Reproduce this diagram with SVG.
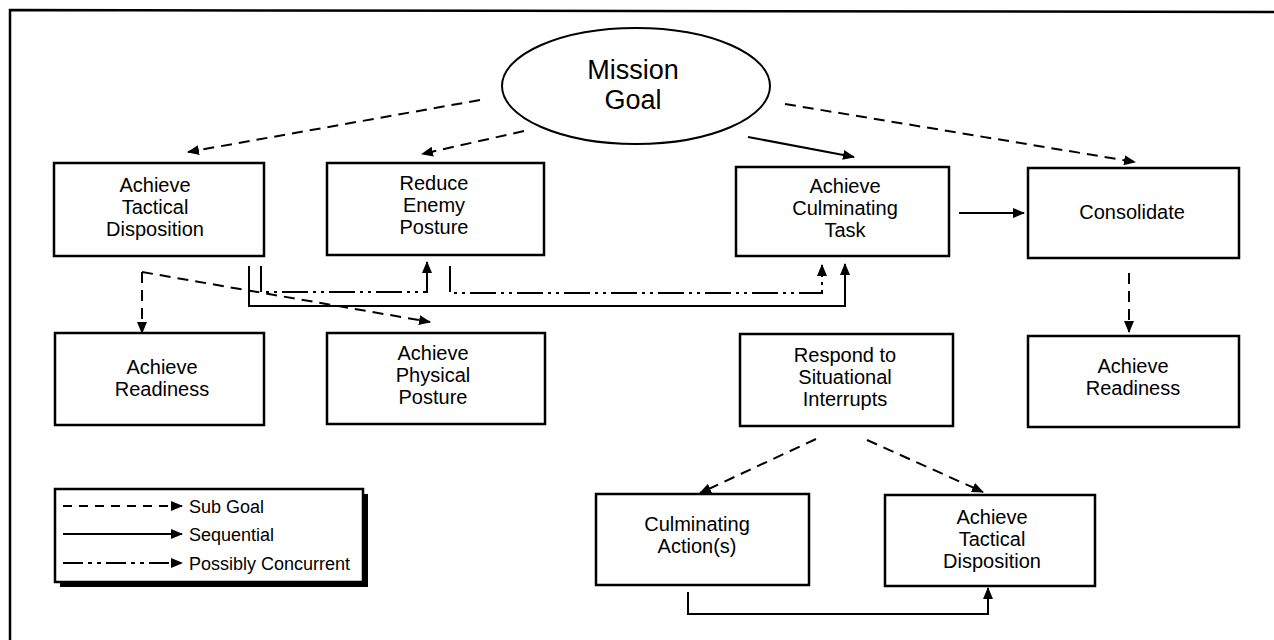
<svg xmlns="http://www.w3.org/2000/svg" width="1274" height="640" viewBox="0 0 1274 640">
<style>
.box{fill:#fff;stroke:#000;stroke-width:2.5}
.t{font-family:"Liberation Sans",Arial,sans-serif;font-size:20px;fill:#000;text-anchor:middle}
.big{font-size:27px}
.lt{font-family:"Liberation Sans",Arial,sans-serif;font-size:18px;fill:#000}
.c{fill:none;stroke:#000;stroke-width:2}
.dash{stroke-dasharray:11 7}
.dd{stroke-dasharray:26 5 3 5 3 5}
</style>
<defs>
<marker id="ah" markerUnits="userSpaceOnUse" viewBox="0 0 12 10" refX="11" refY="5" markerWidth="12" markerHeight="10" orient="auto">
<path d="M0,0 L12,5 L0,10 z" fill="#000"/>
</marker>
</defs>
<rect width="1274" height="640" fill="#fff"/>
<path d="M10,640 L10,10 L1274,12" fill="none" stroke="#000" stroke-width="2.5"/>

<g id="mission">
<ellipse cx="636" cy="86" rx="134" ry="58" fill="#fff" stroke="#000" stroke-width="2"/>
<text class="t big" x="633" y="79">Mission</text>
<text class="t big" x="633" y="109">Goal</text>
</g>

<g id="atd1"><rect class="box" x="54" y="163" width="210" height="93"/>
<text class="t" x="155" y="192">Achieve</text><text class="t" x="155" y="214">Tactical</text><text class="t" x="155" y="236">Disposition</text></g>

<g id="rep"><rect class="box" x="327" y="163" width="217" height="92"/>
<text class="t" x="434" y="190">Reduce</text><text class="t" x="434" y="212">Enemy</text><text class="t" x="434" y="234">Posture</text></g>

<g id="act"><rect class="box" x="736" y="167" width="213" height="89"/>
<text class="t" x="845" y="193">Achieve</text><text class="t" x="845" y="215">Culminating</text><text class="t" x="845" y="237">Task</text></g>

<g id="con"><rect class="box" x="1028" y="168" width="211" height="90"/>
<text class="t" x="1132" y="219">Consolidate</text></g>

<g id="ar1"><rect class="box" x="55" y="333" width="209" height="92"/>
<text class="t" x="162" y="374">Achieve</text><text class="t" x="162" y="396">Readiness</text></g>

<g id="app"><rect class="box" x="327" y="333" width="218" height="91"/>
<text class="t" x="433" y="360">Achieve</text><text class="t" x="433" y="382">Physical</text><text class="t" x="433" y="404">Posture</text></g>

<g id="rsi"><rect class="box" x="740" y="334" width="213" height="92"/>
<text class="t" x="845" y="362">Respond to</text><text class="t" x="845" y="384">Situational</text><text class="t" x="845" y="406">Interrupts</text></g>

<g id="ar2"><rect class="box" x="1028" y="336" width="211" height="91"/>
<text class="t" x="1133" y="373">Achieve</text><text class="t" x="1133" y="395">Readiness</text></g>

<g id="ca"><rect class="box" x="596" y="494" width="213" height="91"/>
<text class="t" x="697" y="531">Culminating</text><text class="t" x="697" y="553">Action(s)</text></g>

<g id="atd2"><rect class="box" x="885" y="495" width="210" height="91"/>
<text class="t" x="992" y="524">Achieve</text><text class="t" x="992" y="546">Tactical</text><text class="t" x="992" y="568">Disposition</text></g>

<g id="legend">
<rect x="60" y="494" width="308" height="93" fill="#000"/>
<rect class="box" x="55" y="489" width="308" height="93"/>
<path class="c" d="M63,506 L182,506" stroke-dasharray="9 7" marker-end="url(#ah)"/>
<path class="c" d="M63,534 L182,534" marker-end="url(#ah)"/>
<path class="c" d="M63,563 L182,563" stroke-dasharray="20 5 4 5 4 5" marker-end="url(#ah)"/>
<text class="lt" x="189" y="513">Sub Goal</text>
<text class="lt" x="189" y="541">Sequential</text>
<text class="lt" x="189" y="570">Possibly Concurrent</text>
</g>

<g id="connectors">
<path class="c dash" d="M480,100 L188,152" marker-end="url(#ah)"/>
<path class="c dash" d="M524,131 L422,154" marker-end="url(#ah)"/>
<path class="c" d="M748,137 L854,157" marker-end="url(#ah)"/>
<path class="c dash" d="M785,104 L1135,162" marker-end="url(#ah)"/>
<path class="c" d="M959,213 L1024,213" marker-end="url(#ah)"/>
<path class="c dash" d="M1129,273 L1129,332" marker-end="url(#ah)"/>
<path class="c dash" d="M142,272 L142,333" marker-end="url(#ah)"/>
<path class="c dash" d="M142,272 L430,322" marker-end="url(#ah)"/>
<path class="c" d="M249,266 L249,306 L845,306 L845,264" marker-end="url(#ah)"/>
<path class="c dd" d="M261,266 L261,292 L427,292 L427,262" marker-end="url(#ah)"/>
<path class="c dd" d="M450,266 L450,293 L822,293 L822,265" marker-end="url(#ah)"/>
<path class="c dash" d="M816,439 L700,493" marker-end="url(#ah)"/>
<path class="c dash" d="M867,440 L983,492" marker-end="url(#ah)"/>
<path class="c" d="M688,592 L688,614 L988,614 L988,588" marker-end="url(#ah)"/>
</g>
</svg>
